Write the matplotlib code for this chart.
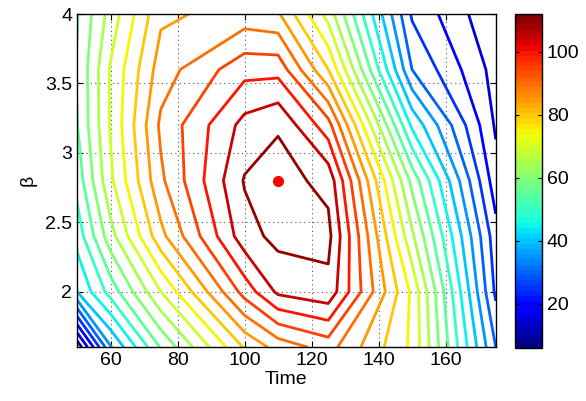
import numpy as np
import matplotlib
matplotlib.use("Agg")
import matplotlib.pyplot as plt
from matplotlib.colors import Normalize
from matplotlib.cm import ScalarMappable

# Grid of the sweep
time_vals = [50, 60, 75, 100, 110, 125, 150, 175]
beta_vals = [1.6, 2.0, 2.4, 2.8, 3.2, 3.6, 4.0]

# Values per beta row
z_b16 = [6.0, 34.5, 55.4, 80.5, 87.0, 92.0, 74.0, 30.0]
z_b20 = [40.0, 52.0, 70.0, 97.0, 106.0, 108.5, 74.0, 24.0]
z_b24 = [47.0, 63.0, 83.5, 108.0, 111.5, 111.5, 66.0, 22.0]
z_b28 = [52.0, 69.0, 89.0, 110.4, 112.0, 108.5, 58.5, 17.0]
z_b32 = [54.8, 70.5, 91.0, 106.7, 109.5, 97.0, 44.0, 14.3]
z_b36 = [55.3, 70.5, 87.5, 98.3, 98.3, 80.0, 30.0, 13.0]
z_b40 = [54.7, 67.0, 84.0, 87.0, 85.7, 68.0, 24.3, 10.5]

contour_levels = list(range(10, 111, 5))
best_time = [110]
best_beta = [2.8]
xticks = [60, 80, 100, 120, 140, 160]
yticks = [2, 2.5, 3, 3.5, 4]
ytick_labels = ['2', '2.5', '3', '3.5', '4']
cbar_ticks = [20, 40, 60, 80, 100]

Z = np.array([z_b16, z_b20, z_b24, z_b28, z_b32, z_b36, z_b40])
X, Y = np.meshgrid(time_vals, beta_vals)

plt.rcParams['font.family'] = ['Liberation Sans', 'DejaVu Sans']

fig = plt.figure(figsize=(5.86, 4.01), dpi=100)
ax = fig.add_axes([0.1315, 0.134, 0.7145, 0.831])
cax = fig.add_axes([0.879, 0.132, 0.046, 0.833])

cmap = plt.get_cmap('jet', 64)
norm = Normalize(vmin=Z.min(), vmax=Z.max())

ax.contour(X, Y, Z, levels=contour_levels, cmap=cmap, norm=norm, linewidths=2.0)
ax.plot(best_time, best_beta, 'o', color='red', markersize=7, markeredgecolor='red')

ax.set_xlim(50, 175)
ax.set_ylim(1.6, 4)
ax.set_xticks(xticks)
ax.set_yticks(yticks)
ax.set_yticklabels(ytick_labels)
ax.grid(True, linestyle=(0, (1, 3)), color='#555555', linewidth=0.8)
ax.tick_params(direction='in', top=True, right=True, labelsize=14, length=4)
ax.set_xlabel('Time', fontsize=14, labelpad=1)
ax.set_ylabel('β', fontsize=14, labelpad=6)
for s in ax.spines.values():
    s.set_linewidth(1.0)

sm = ScalarMappable(norm=norm, cmap=cmap)
cb = fig.colorbar(sm, cax=cax, ticks=cbar_ticks)
cb.ax.tick_params(direction='in', labelsize=14, length=3, left=True, right=True)
cb.outline.set_linewidth(1.0)

fig.savefig('out.png', dpi=100)
